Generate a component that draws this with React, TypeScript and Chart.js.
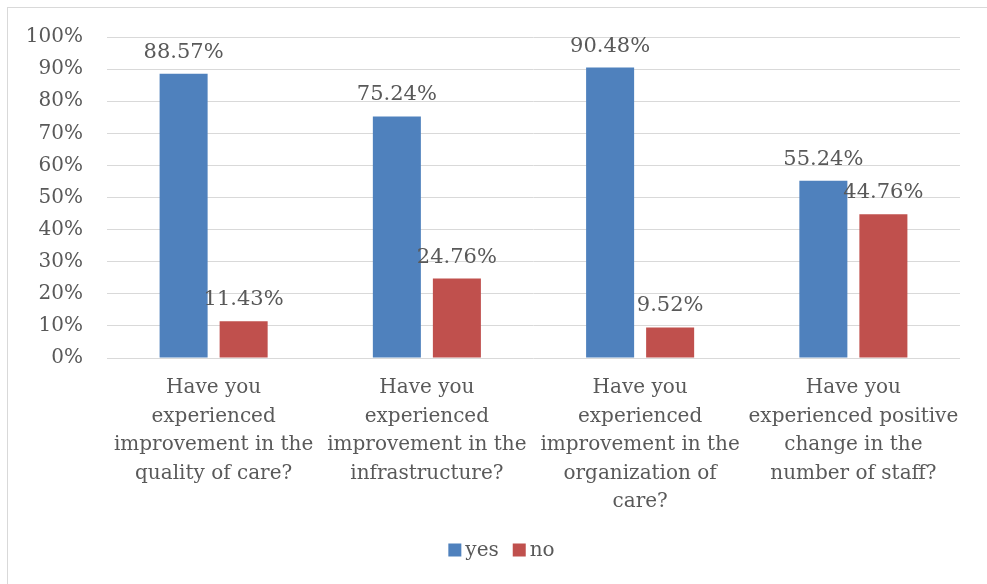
import React, { useEffect, useRef } from "react";
import { Chart, registerables } from "chart.js";

Chart.register(...registerables);

const categories: string[][] = [
  ["Have you", "experienced", "improvement in the", "quality of care?"],
  ["Have you", "experienced", "improvement in the", "infrastructure?"],
  ["Have you", "experienced", "improvement in the", "organization of", "care?"],
  ["Have you", "experienced positive", "change in the", "number of staff?"],
];
const seriesNames = ["yes", "no"];
const yesValues = [88.57, 75.24, 90.48, 55.24];
const noValues = [11.43, 24.76, 9.52, 44.76];
const yTickStep = 10;
const yMax = 100;

const FONT = "'DejaVu Serif', serif";
const TEXT = "#595959";

const dataLabelPlugin = {
  id: "dataLabels",
  afterDatasetsDraw(chart: any) {
    const ctx = chart.ctx;
    ctx.save();
    ctx.font = `21px ${FONT}`;
    ctx.fillStyle = TEXT;
    ctx.textAlign = "center";
    ctx.textBaseline = "alphabetic";
    chart.data.datasets.forEach((ds: any, di: number) => {
      const meta = chart.getDatasetMeta(di);
      meta.data.forEach((bar: any, i: number) => {
        const text = ds.data[i].toFixed(2) + "%";
        const m = ctx.measureText(text);
        let y = bar.y - 16;
        const minY = chart.chartArea.top + m.actualBoundingBoxAscent;
        if (y < minY) y = minY;
        ctx.fillText(text, bar.x, y);
      });
    });
    ctx.restore();
  },
};

const legendPlugin = {
  id: "bottomLegend",
  afterDraw(chart: any) {
    const ctx = chart.ctx;
    ctx.save();
    ctx.font = `20px ${FONT}`;
    ctx.textBaseline = "middle";
    ctx.textAlign = "left";
    const box = 13;
    const gap = 4;
    const spacing = 14;
    const items = chart.data.datasets.map((ds: any) => ({
      text: ds.label,
      color: ds.backgroundColor,
      w: box + gap + ctx.measureText(ds.label).width,
    }));
    const total =
      items.reduce((a: number, it: any) => a + it.w, 0) + spacing * (items.length - 1);
    const cx = chart.width / 2 + 4;
    const cy = chart.height - 34;
    let x = cx - total / 2;
    items.forEach((it: any) => {
      ctx.fillStyle = it.color;
      ctx.fillRect(x, cy - box / 2, box, box);
      ctx.fillStyle = TEXT;
      ctx.fillText(it.text, x + box + gap, cy + 1);
      x += it.w + spacing;
    });
    ctx.restore();
  },
};

export default function App() {
  const ref = useRef<HTMLCanvasElement | null>(null);
  useEffect(() => {
    if (!ref.current) return;
    const chart = new Chart(ref.current, {
      type: "bar",
      data: {
        labels: categories,
        datasets: [
          {
            label: seriesNames[0],
            data: yesValues,
            backgroundColor: "#4F81BD",
            borderWidth: 0,
            barPercentage: 0.8,
            categoryPercentage: 0.563,
          },
          {
            label: seriesNames[1],
            data: noValues,
            backgroundColor: "#C0504D",
            borderWidth: 0,
            barPercentage: 0.8,
            categoryPercentage: 0.563,
          },
        ],
      },
      options: {
        responsive: false,
        animation: false,
        layout: { padding: { left: 0, right: 27, top: 29, bottom: 54 } },
        plugins: {
          tooltip: { enabled: false },
          legend: { display: false },
        },
        scales: {
          x: {
            grid: { display: false, drawTicks: false },
            border: { display: false },
            ticks: {
              color: TEXT,
              font: { family: FONT, size: 20, lineHeight: 1.42 },
              padding: 16,
              autoSkip: false,
              maxRotation: 0,
              minRotation: 0,
            },
            afterFit: (s: any) => {
              s.height = 172;
            },
          },
          y: {
            min: 0,
            max: yMax,
            grid: { color: "#d9d9d9", lineWidth: 1, drawTicks: false },
            border: { display: false },
            ticks: {
              stepSize: yTickStep,
              color: TEXT,
              font: { family: FONT, size: 20 },
              padding: 24,
              callback: (v: any) => v + "%",
            },
            afterFit: (s: any) => {
              s.width = 99;
              s.paddingTop = 12;
              s.paddingBottom = 12;
            },
          },
        },
      },
      plugins: [dataLabelPlugin, legendPlugin],
    });
    return () => chart.destroy();
  }, []);

  return (
    <div
      style={{
        position: "fixed",
        left: 7,
        top: 7,
        width: 980,
        height: 577,
        borderLeft: "1px solid #d9d9d9",
        borderTop: "1px solid #d9d9d9",
        boxSizing: "border-box",
        background: "#fff",
      }}
    >
      <canvas ref={ref} width={979} height={576} style={{ display: "block" }} />
    </div>
  );
}
